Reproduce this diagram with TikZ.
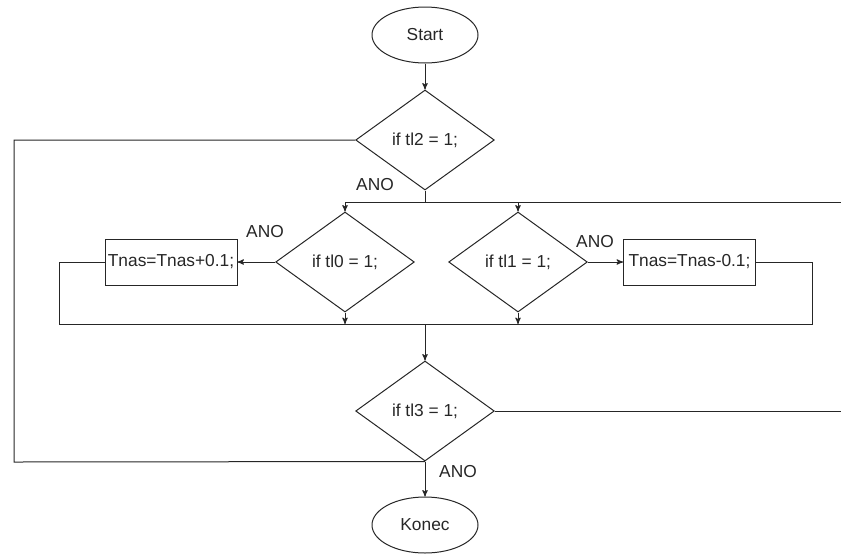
\documentclass[tikz,border=0pt]{standalone}
\usepackage{fontspec}
\setmainfont{Liberation Sans}
\usepackage{tikz}
\usetikzlibrary{arrows, calc, positioning, shapes.geometric}

\tikzset{
  term/.style={draw, ellipse, minimum width=79.5pt, minimum height=42pt, inner sep=0pt},
  cond/.style={draw, diamond, aspect=1.4, minimum width=104pt, minimum height=75pt, inner sep=0pt},
  cmd/.style={draw, rectangle, minimum width=99pt, minimum height=34.5pt, inner sep=1pt},
  ano/.style={inner sep=0pt}
}

\begin{document}
\begin{tikzpicture}[x=0.75pt, y=-0.75pt, ->, >=stealth', line width=0.75pt,
    every node/.style={font=\fontsize{13}{15}\selectfont, text=black!85},
    color=black!85]
  \useasboundingbox (0,0) rectangle (841,554);

  \node[term] (start) at (425, 35)  {Start};
  \node[cond] (c2)    at (425, 140) {if tl2 = 1;};
  \node[cond] (c0)    at (345, 262) {if tl0 = 1;};
  \node[cond] (c1)    at (518, 262) {if tl1 = 1;};
  \node[cmd]  (inc)   at (171, 262) {Tnas=Tnas+0.1;};
  \node[cmd]  (dec)   at (689.5, 262) {Tnas=Tnas-0.1;};
  \node[cond] (c3)    at (425, 411) {if tl3 = 1;};
  \node[term] (konec) at (425, 525) {Konec};

  \coordinate (split)  at (425, 202);
  \coordinate (splitR) at (841, 202);
  \coordinate (join)   at (425, 324);
  \coordinate (joinL)  at (59, 324);
  \coordinate (joinR)  at (812, 324);
  \coordinate (loopL)  at (14, 462);
  \coordinate (outR)   at (841, 411);

  \node[ano] (a2) at (375, 185) {ANO};
  \node[ano] (a0) at (265, 232) {ANO};
  \node[ano] (a1) at (595, 242) {ANO};
  \node[ano] (a3) at (458, 472) {ANO};

  % top part
  \draw (start) -- (c2);
  \draw[-] (c2.south) -- (split);
  \draw[-] (c0.north |- split) -- (splitR);
  \draw (c0.north |- split) -- (c0.north);
  \draw (c1.north |- split) -- (c1.north);
  % branches
  \draw (c0.west) -- (inc.east);
  \draw (c1.east) -- (dec.west);
  \draw (c0.south) -- (c0.south |- join);
  \draw (c1.south) -- (c1.south |- join);
  \draw[-] (inc.west) -| (joinL) -- (joinR) |- (dec.east);
  % bottom part
  \draw (join) -- (c3.north);
  \draw (c3.south) -- (konec.north);
  \draw[-] (c3.east) -- (outR);
  \draw[-] (c2.west) -| (loopL) -- (c3.south);
\end{tikzpicture}
\end{document}
